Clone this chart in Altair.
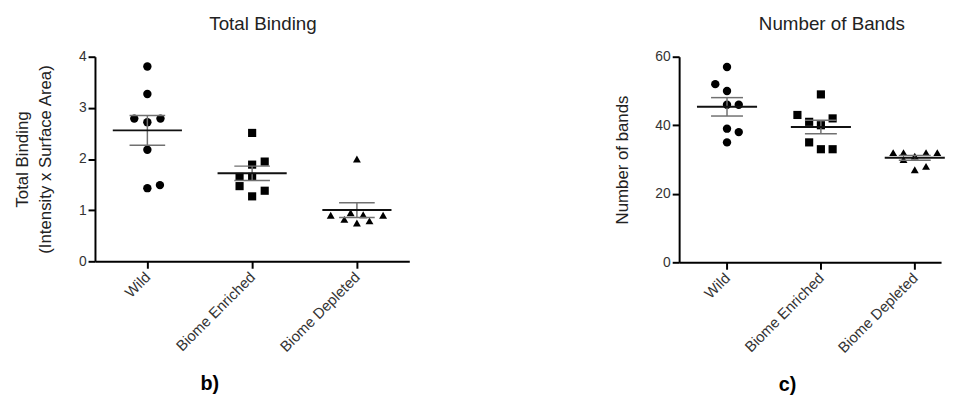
import json
import altair as alt
import pandas as pd

categories = ["Wild", "Biome Enriched", "Biome Depleted"]

# Panel b) Total Binding
tb_wild = [3.81, 3.27, 2.79, 2.79, 2.72, 2.18, 1.43, 1.49]
tb_wild_slot = [0, 0, -0.125, 0.125, 0, 0, 0, 0.12]
tb_enr = [2.51, 1.89, 1.95, 1.65, 1.65, 1.47, 1.38, 1.27]
tb_enr_slot = [0, 0, 0.12, -0.12, 0, -0.12, 0.12, 0]
tb_dep = [2.0, 0.9, 0.95, 0.91, 0.9, 0.82, 0.75, 0.79]
tb_dep_slot = [0, -0.25, -0.06, 0.06, 0.25, -0.12, 0, 0.12]

# Panel c) Number of Bands
nb_wild = [57, 52, 50, 46, 46, 39, 38, 35]
nb_wild_slot = [0, -0.125, 0, 0, 0.125, 0, 0.125, 0]
nb_enr = [49, 43, 41, 40, 42, 35, 33, 33]
nb_enr_slot = [0, -0.25, -0.125, 0, 0.125, -0.125, 0, 0.125]
nb_dep = [32, 32, 30, 31, 32, 32, 27, 28]
nb_dep_slot = [-0.23, -0.12, -0.12, 0, 0.12, 0.24, 0, 0.12]

tb_ticks = [0, 1, 2, 3, 4]
nb_ticks = [0, 20, 40, 60]

shapes = ["circle", "square", "triangle-up"]
shape_sizes = [72, 64, 80]

label_expr = json.dumps(categories) + "[datum.value]"


def make_df(groups):
    rows = []
    for i, (vals, slots) in enumerate(groups):
        for v, s in zip(vals, slots):
            rows.append({"group": categories[i], "idx": i, "value": v, "slot": s})
    return pd.DataFrame(rows)


def panel(df, xdom, ydom, yticks, ytitle, title, half, width, height, tpad, tdx):
    xaxis = alt.Axis(values=[0, 1, 2], labelExpr=label_expr, labelAngle=-45,
                     labelAlign="right", labelBaseline="middle", labelPadding=6,
                     labelFontSize=15, title=None, grid=False)
    yaxis = alt.Axis(values=yticks, title=ytitle, grid=False, titlePadding=tpad,
                     titleLineHeight=23, titleFontSize=17, labelFontSize=14)
    xs = alt.Scale(domain=xdom, nice=False, zero=False)
    ys = alt.Scale(domain=ydom, nice=False)

    base = alt.Chart(df)
    points = base.transform_calculate(xpos="datum.idx + datum.slot").mark_point(
        filled=True, opacity=1, color="black"
    ).encode(
        x=alt.X("xpos:Q", scale=xs, axis=xaxis),
        y=alt.Y("value:Q", scale=ys, axis=yaxis),
        shape=alt.Shape("group:N", scale=alt.Scale(domain=categories, range=shapes), legend=None),
        size=alt.Size("group:O", scale=alt.Scale(domain=categories, range=shape_sizes), legend=None),
    )
    stats = base.transform_aggregate(
        m="mean(value)", se="stderr(value)", groupby=["idx"]
    ).transform_calculate(
        lo="datum.m - datum.se", hi="datum.m + datum.se",
        ml=f"datum.idx - {half}", mr=f"datum.idx + {half}",
        cl="datum.idx - 0.17", cr="datum.idx + 0.17",
    )
    mean_rule = stats.mark_rule(color="#111111", strokeWidth=2).encode(
        x=alt.X("ml:Q", scale=xs, axis=xaxis), x2="mr:Q",
        y=alt.Y("m:Q", scale=ys, axis=yaxis))
    vert = stats.mark_rule(color="#707070", strokeWidth=1.5).encode(
        x=alt.X("idx:Q", scale=xs, axis=xaxis),
        y=alt.Y("lo:Q", scale=ys, axis=yaxis), y2="hi:Q")
    cap_hi = stats.mark_rule(color="#707070", strokeWidth=1.5).encode(
        x=alt.X("cl:Q", scale=xs, axis=xaxis), x2="cr:Q",
        y=alt.Y("hi:Q", scale=ys, axis=yaxis))
    cap_lo = stats.mark_rule(color="#707070", strokeWidth=1.5).encode(
        x=alt.X("cl:Q", scale=xs, axis=xaxis), x2="cr:Q",
        y=alt.Y("lo:Q", scale=ys, axis=yaxis))
    return alt.layer(points, vert, cap_hi, cap_lo, mean_rule).properties(
        width=width, height=height,
        title=alt.Title(title, frame="group", fontSize=19, fontWeight="normal",
                        offset=16, dx=tdx, color="#222222"),
    )


df_tb = make_df([(tb_wild, tb_wild_slot), (tb_enr, tb_enr_slot), (tb_dep, tb_dep_slot)])
df_nb = make_df([(nb_wild, nb_wild_slot), (nb_enr, nb_enr_slot), (nb_dep, nb_dep_slot)])

left = panel(df_tb, [-0.5, 2.5], [0, 4], tb_ticks,
             ["Total Binding", "(Intensity x Surface Area)"], "Total Binding",
             0.33, 318, 207, 24, 11)
right = panel(df_nb, [-0.51, 2.28], [0, 60], nb_ticks,
              "Number of bands", "Number of Bands", 0.32, 265, 208, 24, 22)

left_wrap = alt.vconcat(left, title=alt.Title("b)", orient="bottom", anchor="middle",
                                              fontSize=20, fontWeight="bold", offset=20,
                                              dx=-2, color="#000000"))
right_wrap = alt.vconcat(right, title=alt.Title("c)", orient="bottom", anchor="middle",
                                                fontSize=20, fontWeight="bold", offset=20,
                                                dx=8, color="#000000"))

chart = alt.hconcat(left_wrap, right_wrap, spacing=206).properties(
    padding={"left": 6, "top": 5, "right": 0, "bottom": 0}
).configure(font="Liberation Sans").configure_view(stroke=None).configure_axis(
    domainColor="#000000", domainWidth=2, tickColor="#000000", tickWidth=2, tickSize=7,
    labelColor="#333333", labelFont="Liberation Sans",
    titleFontWeight="normal", titleColor="#222222", titleFont="Liberation Sans",
    labelPadding=2,
).configure_title(font="Liberation Sans")

chart.save("out.html", embed_options={"renderer": "svg", "actions": False})
